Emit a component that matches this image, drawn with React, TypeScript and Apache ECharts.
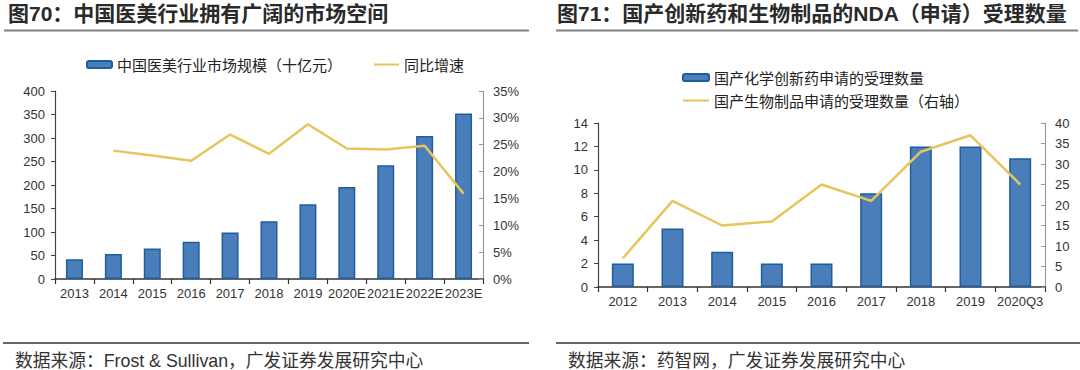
import React, { useEffect, useRef } from "react";
import * as echarts from "echarts";

const leftCategories = ["2013", "2014", "2015", "2016", "2017", "2018", "2019", "2020E", "2021E", "2022E", "2023E"];
const marketSize = [42, 53, 65, 79, 99, 123, 159, 196, 242, 304, 352];
const growthRate = [null, 23.9, 23.0, 22.0, 26.9, 23.3, 28.8, 24.3, 24.1, 24.8, 15.9];
const leftYTicks = { min: 0, max: 400, interval: 50 };
const leftRTicks = { min: 0, max: 35, interval: 5 };

const rightCategories = ["2012", "2013", "2014", "2015", "2016", "2017", "2018", "2019", "2020Q3"];
const chemNDA = [2, 5, 3, 2, 2, 8, 12, 12, 11];
const bioNDA = [7, 21, 15, 16, 25, 21, 33, 37, 25];
const rightYTicks = { min: 0, max: 14, interval: 2 };
const rightRTicks = { min: 0, max: 40, interval: 5 };

const leftTitle = "图70：中国医美行业拥有广阔的市场空间";
const rightTitle = "图71：国产创新药和生物制品的NDA（申请）受理数量";
const leftSource = "数据来源：Frost & Sullivan，广发证券发展研究中心";
const rightSource = "数据来源：药智网，广发证券发展研究中心";
const nameBarL = "中国医美行业市场规模（十亿元）";
const nameLineL = "同比增速";
const nameBarR = "国产化学创新药申请的受理数量";
const nameLineR = "国产生物制品申请的受理数量（右轴）";

const BAR = "#4A7EBB";
const BAR_BORDER = "#1F5E9E";
const LINE = "#E8C45C";
const LABEL = "#333333";
const LATIN = "'Liberation Sans', Arial, 'Noto Sans CJK SC', sans-serif";
const CJK = "'Noto Sans CJK SC', sans-serif";

function xAxis(gridIndex: number, data: string[]) {
  return {
    type: "category",
    gridIndex,
    data,
    boundaryGap: true,
    axisLine: { show: true, lineStyle: { color: "#333", width: 1.5 } },
    axisTick: { show: true, length: 5, lineStyle: { color: "#333", width: 1.2 } },
    axisLabel: { color: LABEL, fontSize: 13, fontFamily: LATIN, margin: 8, interval: 0 },
    splitLine: { show: false },
  };
}

function yAxis(gridIndex: number, t: any, position: string, fmt?: string) {
  const right = position === "right";
  return {
    type: "value",
    gridIndex,
    position,
    min: t.min,
    max: t.max,
    interval: t.interval,
    axisLine: { show: true, lineStyle: { color: right ? "#999" : "#444", width: 1.2 } },
    axisTick: { show: true, inside: right, length: 4, lineStyle: { color: right ? "#999" : "#444" } },
    axisLabel: {
      color: LABEL,
      fontSize: 13,
      fontFamily: LATIN,
      margin: 10,
      formatter: fmt,
    },
    splitLine: { show: false },
  };
}

export default function App() {
  const ref = useRef<HTMLDivElement>(null);
  useEffect(() => {
    if (!ref.current) return;
    const chart = echarts.init(ref.current, null, { renderer: "svg" });
    const option: any = {
      animation: false,
      backgroundColor: "#ffffff",
      grid: [
        { left: 55, top: 91, width: 428, height: 188 },
        { left: 598, top: 123, width: 447, height: 164 },
      ],
      xAxis: [xAxis(0, leftCategories), xAxis(1, rightCategories)],
      yAxis: [
        yAxis(0, leftYTicks, "left"),
        yAxis(0, leftRTicks, "right", "{value}%"),
        yAxis(1, rightYTicks, "left"),
        yAxis(1, rightRTicks, "right"),
      ],
      legend: [
        {
          left: 86,
          top: 57,
          padding: 0,
          orient: "horizontal",
          itemWidth: 25,
          itemHeight: 7,
          itemGap: 31,
          data: [nameBarL, { name: nameLineL, itemStyle: { opacity: 0 } }],
          textStyle: { fontSize: 15, fontFamily: CJK, color: "#222" },
        },
        {
          left: 682,
          top: 70,
          padding: 0,
          orient: "vertical",
          itemWidth: 26,
          itemHeight: 7,
          itemGap: 8,
          data: [nameBarR, { name: nameLineR, itemStyle: { opacity: 0 } }],
          textStyle: { fontSize: 15, fontFamily: CJK, color: "#222" },
        },
      ],
      series: [
        {
          name: nameBarL,
          type: "bar",
          xAxisIndex: 0,
          yAxisIndex: 0,
          data: marketSize,
          barWidth: 17,
          itemStyle: { color: BAR, borderColor: BAR_BORDER, borderWidth: 1.5 },
        },
        {
          name: nameLineL,
          type: "line",
          xAxisIndex: 0,
          yAxisIndex: 1,
          data: growthRate,
          symbol: "none",
          lineStyle: { color: LINE, width: 2.5 },
          itemStyle: { color: LINE },
        },
        {
          name: nameBarR,
          type: "bar",
          xAxisIndex: 1,
          yAxisIndex: 2,
          data: chemNDA,
          barWidth: 22,
          itemStyle: { color: BAR, borderColor: BAR_BORDER, borderWidth: 1.5 },
        },
        {
          name: nameLineR,
          type: "line",
          xAxisIndex: 1,
          yAxisIndex: 3,
          data: bioNDA,
          symbol: "none",
          lineStyle: { color: LINE, width: 2.5 },
          itemStyle: { color: LINE },
        },
      ],
      graphic: [
        {
          type: "text",
          left: 8,
          top: 3,
          style: { text: leftTitle, fontSize: 21, fontWeight: "bold", fontFamily: LATIN, fill: "#2a2a2a" },
        },
        {
          type: "text",
          left: 557,
          top: 3,
          style: { text: rightTitle, fontSize: 21, fontWeight: "bold", fontFamily: LATIN, fill: "#2a2a2a" },
        },
        { type: "line", shape: { x1: 4, y1: 30.5, x2: 529, y2: 30.5 }, style: { stroke: "#808080", lineWidth: 2 } },
        { type: "line", shape: { x1: 556, y1: 30.5, x2: 1078, y2: 30.5 }, style: { stroke: "#808080", lineWidth: 2 } },
        { type: "line", shape: { x1: 3, y1: 343, x2: 529, y2: 343 }, style: { stroke: "#333", lineWidth: 1.5 } },
        { type: "line", shape: { x1: 556, y1: 343, x2: 1080, y2: 343 }, style: { stroke: "#333", lineWidth: 1.5 } },
        {
          type: "text",
          left: 15,
          top: 352,
          style: { text: leftSource, fontSize: 17.75, fontFamily: LATIN, fill: "#333" },
        },
        {
          type: "text",
          left: 568,
          top: 352,
          style: { text: rightSource, fontSize: 17.75, fontFamily: LATIN, fill: "#333" },
        },
      ],
    };
    chart.setOption(option);
    return () => chart.dispose();
  }, []);
  return (
    <div
      ref={ref}
      style={{ position: "absolute", left: 0, top: 0, width: 1080, height: 370, background: "#fff" }}
    />
  );
}
